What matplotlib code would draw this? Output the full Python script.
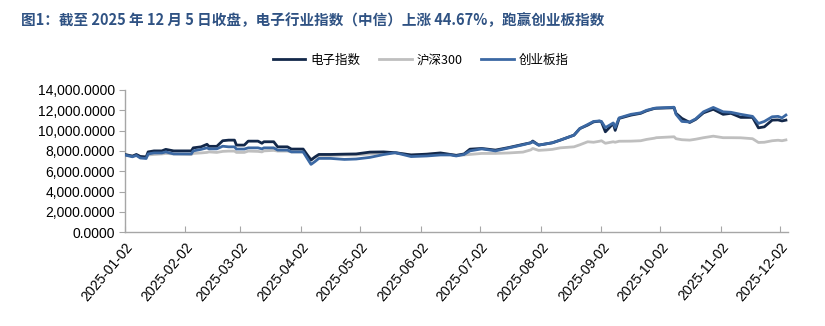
import matplotlib.pyplot as plt
import matplotlib.dates as mdates
import matplotlib.ticker as mticker
import pandas as pd

plt.rcParams['font.family'] = ['Liberation Sans', 'Noto Sans CJK SC', 'DejaVu Sans']

# 交易日（取样）
dates = [
    '2025-01-02', '2025-01-06', '2025-01-08', '2025-01-10', '2025-01-13', '2025-01-14',
    '2025-01-17', '2025-01-21', '2025-01-23', '2025-01-27', '2025-02-05', '2025-02-06',
    '2025-02-10', '2025-02-13', '2025-02-14', '2025-02-18', '2025-02-21', '2025-02-24',
    '2025-02-27', '2025-02-28', '2025-03-04', '2025-03-06', '2025-03-11', '2025-03-13',
    '2025-03-14', '2025-03-19', '2025-03-21', '2025-03-26', '2025-03-28', '2025-04-03',
    '2025-04-07', '2025-04-09', '2025-04-11', '2025-04-17', '2025-04-24', '2025-04-30',
    '2025-05-07', '2025-05-14', '2025-05-20', '2025-05-28', '2025-06-05', '2025-06-12',
    '2025-06-17', '2025-06-20', '2025-06-24', '2025-06-27', '2025-07-03', '2025-07-10',
    '2025-07-17', '2025-07-24', '2025-07-28', '2025-07-29', '2025-08-01', '2025-08-05',
    '2025-08-08', '2025-08-12', '2025-08-19', '2025-08-22', '2025-08-26', '2025-08-29',
    '2025-09-01', '2025-09-02', '2025-09-04', '2025-09-08', '2025-09-09', '2025-09-11',
    '2025-09-17', '2025-09-22', '2025-09-25', '2025-09-29', '2025-09-30', '2025-10-09',
    '2025-10-10', '2025-10-13', '2025-10-17', '2025-10-20', '2025-10-24', '2025-10-29',
    '2025-11-03', '2025-11-07', '2025-11-12', '2025-11-18', '2025-11-21', '2025-11-24',
    '2025-11-28', '2025-12-01', '2025-12-03', '2025-12-05',
]

# 电子指数
dianzi = [
    7650, 7480, 7650, 7450, 7400, 7900, 8000, 8000, 8150, 8000, 8000, 8300,
    8400, 8650, 8450, 8450, 9000, 9060, 9060, 8570, 8570, 8960, 8960, 8750,
    8900, 8900, 8400, 8400, 8180, 8180, 7090, 7400, 7650, 7650, 7680, 7700,
    7880, 7900, 7820, 7600, 7680, 7800, 7650, 7560, 7700, 8170, 8240, 8080,
    8340, 8640, 8800, 8970, 8570, 8700, 8800, 9060, 9550, 10200, 10540, 10860,
    10930, 10860, 9880, 10700, 10020, 11200, 11520, 11700, 11950, 12180, 12200, 12250,
    11700, 11200, 10800, 11100, 11750, 12100, 11600, 11700, 11300, 11300, 10270, 10370,
    11030, 11050, 10950, 11030,
]

# 沪深300
hs300 = [
    7650, 7500, 7550, 7450, 7400, 7600, 7650, 7700, 7750, 7700, 7650, 7750,
    7800, 7850, 7900, 7850, 7950, 7980, 7980, 7850, 7850, 7980, 7950, 7900,
    8000, 8050, 7980, 7980, 7900, 7900, 7200, 7350, 7550, 7550, 7600, 7600,
    7700, 7800, 7820, 7600, 7650, 7700, 7650, 7560, 7600, 7650, 7750, 7750,
    7800, 7880, 8100, 8240, 8050, 8100, 8150, 8300, 8400, 8600, 8900, 8850,
    8950, 9000, 8750, 8900, 8850, 8950, 8960, 9000, 9130, 9250, 9300, 9390,
    9200, 9100, 9060, 9150, 9300, 9450, 9300, 9300, 9290, 9200, 8830, 8850,
    9000, 9050, 9000, 9080,
]

# 创业板指
cyb = [
    7600, 7420, 7550, 7300, 7250, 7700, 7800, 7800, 7900, 7700, 7700, 8000,
    8150, 8300, 8200, 8200, 8460, 8400, 8400, 8180, 8180, 8300, 8300, 8200,
    8300, 8300, 8080, 8080, 7900, 7900, 6670, 6950, 7260, 7260, 7160, 7200,
    7360, 7640, 7820, 7440, 7500, 7600, 7600, 7500, 7650, 8000, 8200, 8000,
    8300, 8600, 8800, 8900, 8570, 8700, 8800, 9060, 9550, 10200, 10600, 10900,
    10950, 10900, 10290, 10750, 10300, 11250, 11600, 11750, 12000, 12200, 12220, 12300,
    11600, 10900, 10850, 11150, 11850, 12280, 11850, 11800, 11600, 11400, 10700, 10900,
    11360, 11400, 11250, 11530,
]

# 横轴刻度：每月 2 日
tick_dates = ['2025-%02d-02' % m for m in range(1, 13)]

x = pd.to_datetime(dates)

fig = plt.figure(figsize=(8.25, 3.26), dpi=100)
ax = fig.add_axes([0.151, 0.288, 0.804, 0.436])

ax.plot(x, hs300, color='#bfbfbf', lw=2.0, label='沪深300', zorder=2)
ax.plot(x, dianzi, color='#13284a', lw=2.0, label='电子指数', zorder=3)
ax.plot(x, cyb, color='#3b68a3', lw=2.0, label='创业板指', zorder=4)

ax.set_ylim(0, 14000)
ax.yaxis.set_major_locator(mticker.MultipleLocator(2000))
ax.yaxis.set_major_formatter(mticker.FuncFormatter(lambda v, p: f'{v:,.4f}'))

ax.set_xlim(pd.Timestamp('2025-01-02'), pd.Timestamp('2025-12-06'))
ax.set_xticks(pd.to_datetime(tick_dates))
ax.xaxis.set_major_formatter(mdates.DateFormatter('%Y-%m-%d'))
for lab in ax.get_xticklabels():
    lab.set_rotation(50)
    lab.set_ha('right')
    lab.set_rotation_mode('anchor')
    lab.set_fontfamily(['Liberation Sans Narrow', 'Liberation Sans'])
    lab.set_fontsize(10)

ax.tick_params(axis='y', direction='out', length=4, color='#a6a6a6', labelsize=10, pad=3)
ax.tick_params(axis='x', direction='in', length=4, color='#a6a6a6', pad=6)
for s in ['top', 'right']:
    ax.spines[s].set_visible(False)
for s in ['left', 'bottom']:
    ax.spines[s].set_color('#a6a6a6')
    ax.spines[s].set_linewidth(1.0)

handles, labels = ax.get_legend_handles_labels()
order = [1, 0, 2]
fig.legend([handles[i] for i in order], [labels[i] for i in order],
           loc='center', bbox_to_anchor=(0.51, 0.815), ncol=3, frameon=False,
           handlelength=2.6, columnspacing=1.5, handletextpad=0.4,
           prop={'family': ['Noto Sans CJK SC', 'Liberation Sans'], 'size': 9})

fig.text(0.026, 0.938, '图1：截至 2025 年 12 月 5 日收盘，电子行业指数（中信）上涨 44.67%，跑赢创业板指数',
         fontsize=10.5, fontweight='bold', color='#2f5283',
         family=['Noto Sans CJK SC', 'DejaVu Sans'], va='center', ha='left')

fig.savefig('out.png', dpi=100)
